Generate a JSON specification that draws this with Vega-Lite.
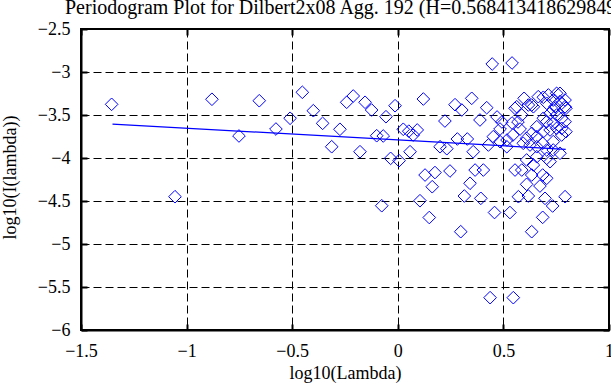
{
  "$schema": "https://vega.github.io/schema/vega-lite/v6.json",
  "autosize": {"type": "none"},
  "padding": {"left": 81, "top": 29, "right": 2, "bottom": 55},
  "width": 528,
  "height": 301,
  "background": "white",
  "config": {
    "view": {"stroke": "black", "strokeWidth": 2},
    "font": "Liberation Serif",
    "axis": {
      "domainColor": "black",
      "domainWidth": 2,
      "gridColor": "black",
      "gridOpacity": 1,
      "gridDash": [8, 4],
      "gridWidth": 1,
      "tickColor": "black",
      "tickWidth": 2,
      "labelFont": "Liberation Serif",
      "labelFontSize": 18,
      "labelColor": "black",
      "titleFont": "Liberation Serif",
      "titleFontSize": 18,
      "titleFontWeight": "normal",
      "titleColor": "black"
    }
  },
  "title": {
    "text": "Periodogram Plot for Dilbert2x08 Agg. 192 (H=0.568413418629849)",
    "anchor": "start",
    "frame": "group",
    "dx": -16,
    "dy": 9,
    "offset": 11,
    "font": "Liberation Serif",
    "fontSize": 20,
    "fontWeight": "normal",
    "color": "black"
  },
  "datasets": {
    "pts": [
      {"x": -1.355, "y": -3.376}, {"x": -1.055, "y": -4.45}, {"x": -0.88, "y": -3.317}, {"x": -0.752, "y": -3.744},
      {"x": -0.656, "y": -3.334}, {"x": -0.577, "y": -3.663}, {"x": -0.51, "y": -3.538}, {"x": -0.452, "y": -3.236},
      {"x": -0.4, "y": -3.45}, {"x": -0.356, "y": -3.597}, {"x": -0.313, "y": -3.869}, {"x": -0.274, "y": -3.666},
      {"x": -0.242, "y": -3.352}, {"x": -0.211, "y": -3.279}, {"x": -0.179, "y": -3.927}, {"x": -0.155, "y": -3.352},
      {"x": -0.124, "y": -3.442}, {"x": -0.1, "y": -3.741}, {"x": -0.076, "y": -4.555}, {"x": -0.069, "y": -3.744},
      {"x": -0.056, "y": -3.52}, {"x": -0.034, "y": -4.004}, {"x": -0.013, "y": -3.392}, {"x": 0.006, "y": -4.031},
      {"x": 0.026, "y": -3.666}, {"x": 0.052, "y": -3.688}, {"x": 0.058, "y": -3.927}, {"x": 0.073, "y": -3.733},
      {"x": 0.092, "y": -3.674}, {"x": 0.105, "y": -4.497}, {"x": 0.121, "y": -3.314}, {"x": 0.129, "y": -4.198},
      {"x": 0.149, "y": -4.692}, {"x": 0.163, "y": -4.334}, {"x": 0.176, "y": -4.169}, {"x": 0.2, "y": -3.869},
      {"x": 0.223, "y": -3.57}, {"x": 0.232, "y": -3.892}, {"x": 0.247, "y": -4.151}, {"x": 0.271, "y": -3.38},
      {"x": 0.298, "y": -4.857}, {"x": 0.282, "y": -3.779}, {"x": 0.315, "y": -4.442}, {"x": 0.303, "y": -3.442},
      {"x": 0.329, "y": -3.779}, {"x": 0.342, "y": -4.294}, {"x": 0.35, "y": -3.306}, {"x": 0.357, "y": -3.927},
      {"x": 0.366, "y": -4.14}, {"x": 0.389, "y": -3.558}, {"x": 0.393, "y": -4.469}, {"x": 0.405, "y": -4.14},
      {"x": 0.421, "y": -3.415}, {"x": 0.429, "y": -3.849}, {"x": 0.437, "y": -5.624}, {"x": 0.447, "y": -2.907},
      {"x": 0.452, "y": -3.752}, {"x": 0.458, "y": -4.634}, {"x": 0.484, "y": -3.81}, {"x": 0.516, "y": -3.869},
      {"x": 0.531, "y": -4.634}, {"x": 0.541, "y": -2.895}, {"x": 0.547, "y": -5.624}, {"x": 0.555, "y": -3.422},
      {"x": 0.555, "y": -4.14}, {"x": 0.571, "y": -4.45}, {"x": 0.587, "y": -4.14}, {"x": 0.594, "y": -3.829},
      {"x": 0.598, "y": -3.306}, {"x": 0.61, "y": -4.023}, {"x": 0.61, "y": -4.306}, {"x": 0.618, "y": -4.442},
      {"x": 0.626, "y": -3.849}, {"x": 0.634, "y": -4.857}, {"x": 0.634, "y": -4.198}, {"x": 0.642, "y": -4.081},
      {"x": 0.658, "y": -3.869}, {"x": 0.658, "y": -3.985}, {"x": 0.673, "y": -4.326}, {"x": 0.686, "y": -4.69},
      {"x": 0.686, "y": -4.198}, {"x": 0.686, "y": -3.829}, {"x": 0.689, "y": -3.294}, {"x": 0.689, "y": -3.694},
      {"x": 0.697, "y": -4.469}, {"x": 0.705, "y": -3.364}, {"x": 0.705, "y": -3.578}, {"x": 0.705, "y": -4.004},
      {"x": 0.705, "y": -4.236}, {"x": 0.721, "y": -4.043}, {"x": 0.721, "y": -3.674}, {"x": 0.733, "y": -4.558},
      {"x": 0.736, "y": -3.326}, {"x": 0.736, "y": -3.442}, {"x": 0.736, "y": -3.597}, {"x": 0.736, "y": -3.81},
      {"x": 0.752, "y": -3.655}, {"x": 0.752, "y": -3.5}, {"x": 0.768, "y": -3.248}, {"x": 0.776, "y": -3.364},
      {"x": 0.776, "y": -3.538}, {"x": 0.776, "y": -3.733}, {"x": 0.792, "y": -3.404}, {"x": 0.792, "y": -4.45},
      {"x": 0.563, "y": -3.404}, {"x": 0.634, "y": -3.384},
      {"x": 0.47, "y": -3.523}, {"x": 0.493, "y": -3.581}, {"x": 0.484, "y": -3.663}, {"x": 0.541, "y": -3.593},
      {"x": 0.569, "y": -3.581}, {"x": 0.579, "y": -3.663}, {"x": 0.545, "y": -3.733}, {"x": 0.517, "y": -3.791},
      {"x": 0.736, "y": -3.907}, {"x": 0.768, "y": -3.945}, {"x": 0.705, "y": -3.907}, {"x": 0.658, "y": -3.752},
      {"x": 0.634, "y": -3.713}, {"x": 0.61, "y": -3.771}, {"x": 0.658, "y": -3.636}, {"x": 0.689, "y": -3.538},
      {"x": 0.721, "y": -3.48}, {"x": 0.744, "y": -3.404}, {"x": 0.768, "y": -3.345}, {"x": 0.752, "y": -3.248},
      {"x": 0.792, "y": -3.326}, {"x": 0.796, "y": -3.422}, {"x": 0.792, "y": -3.578}, {"x": 0.776, "y": -3.655},
      {"x": 0.796, "y": -3.694}, {"x": 0.587, "y": -3.5}, {"x": 0.618, "y": -3.384}, {"x": 0.642, "y": -3.404},
      {"x": 0.665, "y": -3.287}, {"x": 0.713, "y": -3.267}
    ],
    "fit": [
      {"x": -1.351, "y": -3.605},
      {"x": 0.795, "y": -3.899}
    ]
  },
  "layer": [
    {
      "data": {"name": "pts"},
      "mark": {"type": "point", "shape": "diamond", "filled": false, "stroke": "#0000ff", "strokeWidth": 1, "size": 160, "opacity": 1},
      "encoding": {
        "x": {
          "field": "x", "type": "quantitative",
          "scale": {"domain": [-1.5, 1], "nice": false, "zero": false},
          "axis": {
            "orient": "bottom", "values": [-1.5, -1, -0.5, 0, 0.5, 1], "format": "~g",
            "title": "log10(Lambda)", "tickSize": -6, "labelPadding": 18,
            "labelBaseline": "top", "titleY": 48, "titleBaseline": "alphabetic",
            "labelFlush": false, "labelOverlap": false
          }
        },
        "y": {
          "field": "y", "type": "quantitative",
          "scale": {"domain": [-6, -2.5], "nice": false, "zero": false},
          "axis": {
            "orient": "left", "values": [-6, -5.5, -5, -4.5, -4, -3.5, -3, -2.5], "format": "~g",
            "title": "log10(I(lambda))", "tickSize": -6, "labelPadding": 17,
            "titleX": -71, "titleY": 148, "titleAngle": -90, "titleAlign": "center", "titleBaseline": "middle",
            "labelFlush": false, "labelOverlap": false
          }
        }
      }
    },
    {
      "data": {"name": "fit"},
      "mark": {"type": "line", "color": "#0000ff", "strokeWidth": 1.3},
      "encoding": {
        "x": {
          "field": "x", "type": "quantitative",
          "axis": {
            "orient": "top", "values": [-1.5, -1, -0.5, 0, 0.5, 1],
            "title": null, "labels": false, "grid": false, "tickSize": -6, "domain": false
          }
        },
        "y": {
          "field": "y", "type": "quantitative",
          "axis": {
            "orient": "right", "values": [-6, -5.5, -5, -4.5, -4, -3.5, -3, -2.5],
            "title": null, "labels": false, "grid": false, "tickSize": -6, "domain": false
          }
        }
      }
    }
  ],
  "resolve": {"axis": {"x": "independent", "y": "independent"}}
}
